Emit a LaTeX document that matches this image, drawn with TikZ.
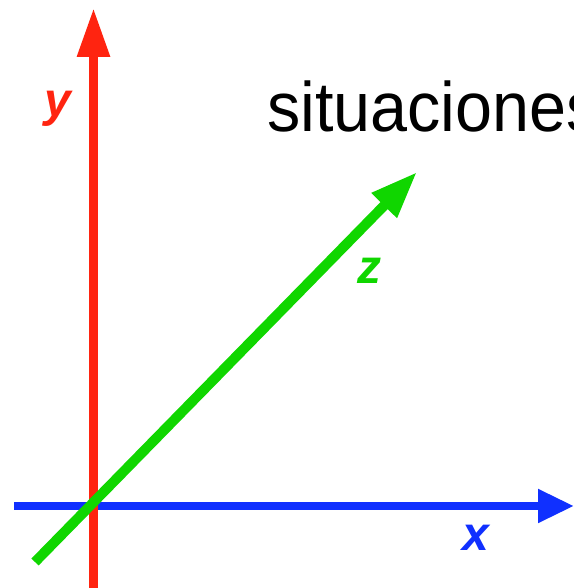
\documentclass[tikz,border=0pt]{standalone}
\usepackage{fontspec}
\setmainfont{Liberation Sans}
\usetikzlibrary{arrows.meta}
\definecolor{axisX}{HTML}{1030FF}
\definecolor{axisY}{HTML}{FF2410}
\definecolor{axisZ}{HTML}{10D600}
\tikzset{
  axis/.style = {line width=9pt},
  axislbl/.style = {font=\fontsize{48}{48}\selectfont\bfseries\itshape, inner sep=0pt},
  title/.style = {font=\fontsize{70}{70}\selectfont, xscale=0.95, inner sep=0pt, anchor=base west},
}
\begin{document}
\begin{tikzpicture}[x=1pt, y=1pt]
\useasboundingbox (0,0) rectangle (573,588);
\clip (0,0) rectangle (573,588);

\coordinate (xs) at (14,82);
\coordinate (xe) at (574,82);
\coordinate (ys) at (93.5,-5);
\coordinate (ye) at (93.5,580);
\coordinate (zs) at (35,26);
\coordinate (ze) at (417,416);

\draw[axis, line width=8pt, axisX, -{Triangle[length=36pt, width=32pt]}] (xs) -- (xe);
\draw[axis, axisY, -{Triangle[length=49pt, width=31pt]}] (ys) -- (ye);
\draw[axis, line width=10pt, axisZ, -{Triangle[length=47pt, width=33pt]}] (zs) -- (ze);

\node[axislbl, text=axisY] (ly) at (58,479) {y};
\node[axislbl, text=axisX] (lx) at (476,50) {x};
\node[axislbl, text=axisZ] (lz) at (369,317) {z};
\node[title] (sit) at (267,456) {situaciones};

\end{tikzpicture}
\end{document}
